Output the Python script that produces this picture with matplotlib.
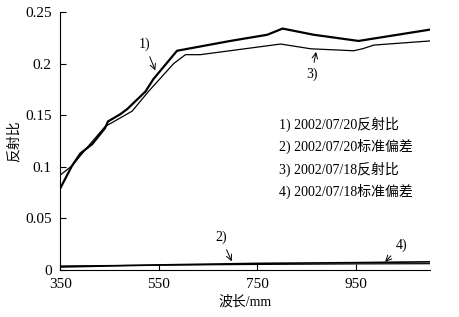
import matplotlib.pyplot as plt
import numpy as np

plt.rcParams['font.family'] = ['Liberation Serif', 'Noto Sans CJK SC']

# 1) 2002/07/20 reflectance
wl_1 = [350, 374, 391, 415, 441, 447, 472, 486, 523, 539, 587, 695, 770, 801, 864, 955, 1100]
refl_1 = [0.079, 0.101, 0.113, 0.122, 0.1375, 0.144, 0.151, 0.156, 0.173, 0.185, 0.2125,
          0.222, 0.228, 0.234, 0.228, 0.222, 0.233]
# 3) 2002/07/18 reflectance
wl_3 = [350, 374, 407, 441, 496, 529, 580, 604, 634, 797, 837, 858, 945, 963, 986, 1100]
refl_3 = [0.092, 0.101, 0.120, 0.139, 0.154, 0.173, 0.200, 0.2087, 0.2087, 0.219, 0.216,
          0.2144, 0.2125, 0.2144, 0.218, 0.222]
# 2) / 4) standard deviations
wl_std = [350, 550, 750, 950, 1100]
std_2 = [0.003, 0.005, 0.0065, 0.0072, 0.008]
std_4 = [0.004, 0.0048, 0.0055, 0.006, 0.0062]

legend_lines = ['1) 2002/07/20反射比', '2) 2002/07/20标准偏差',
                '3) 2002/07/18反射比', '4) 2002/07/18标准偏差']

fig = plt.figure(figsize=(4.59, 3.17), dpi=100)
ax = fig.add_axes([0.131, 0.148, 0.806, 0.814])

ax.plot(wl_1, refl_1, color='k', lw=1.6)
ax.plot(wl_3, refl_3, color='k', lw=0.9)
ax.plot(wl_std, std_2, color='k', lw=1.2)
ax.plot(wl_std, std_4, color='k', lw=0.9)

ax.set_xlim(350, 1100)
ax.set_ylim(0, 0.25)
ax.set_xticks([350, 550, 750, 950])
ax.set_yticks([0, 0.05, 0.1, 0.15, 0.2, 0.25])
ax.set_yticklabels(['0', '0.05', '0.1', '0.15', '0.2', '0.25'])
ax.spines['top'].set_visible(False)
ax.spines['right'].set_visible(False)
ax.tick_params(direction='in', length=4, labelsize=11, width=0.8)
ax.tick_params(axis='x', pad=6)
ax.tick_params(axis='y', pad=6)

ax.set_xlabel('波长/mm', fontsize=10, labelpad=3)
ax.set_ylabel('反射比', fontsize=10, labelpad=3)

arrow = dict(arrowstyle='->', color='k', lw=0.7)
ax.annotate('1)', xy=(545, 0.191), xytext=(510, 0.215), fontsize=10, arrowprops=arrow)
ax.annotate('3)', xy=(870, 0.214), xytext=(860, 0.186), fontsize=10, ha='center', arrowprops=arrow)
ax.annotate('2)', xy=(700, 0.006), xytext=(665, 0.028), fontsize=10, arrowprops=arrow)
ax.annotate('4)', xy=(1005, 0.006), xytext=(1030, 0.021), fontsize=10, arrowprops=arrow)

for i, txt in enumerate(legend_lines):
    ax.text(793, 0.141 - i * 0.0215, txt, fontsize=10, va='center')

fig.savefig('out.png', dpi=100)
